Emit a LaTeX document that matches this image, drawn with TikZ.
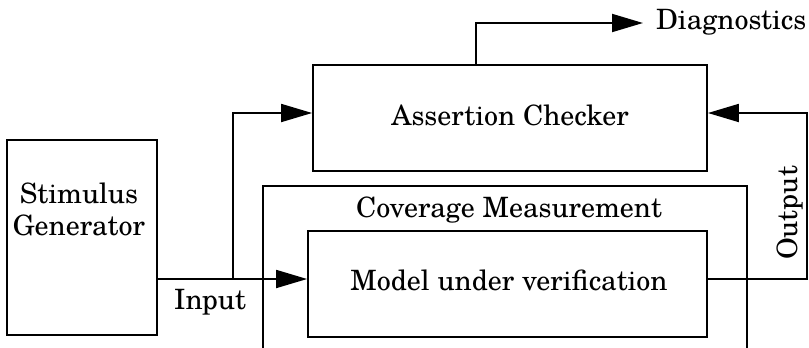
\documentclass[tikz,border=0pt]{standalone}
\usepackage{fontspec}
\setmainfont{TeX Gyre Schola}
\usetikzlibrary{arrows.meta,calc}

\tikzset{
  block/.style={draw, line width=1.8pt, inner sep=0pt},
  lbl/.style={inner sep=0pt, font=\fontsize{28}{32}\selectfont},
  flow/.style={line width=1.8pt, -{Triangle[length=31pt,width=18pt]}},
}

\begin{document}
\begin{tikzpicture}[x=1pt,y=-1pt]
  \useasboundingbox (0,0) rectangle (809,348);

  % blocks
  \node[block, minimum width=150pt, minimum height=195pt] (stim) at (82,237.5) {};
  \node[block, minimum width=394pt, minimum height=106pt] (checker) at (510,118) {};
  \node[block, minimum width=484pt, minimum height=174pt] (coverage) at (505,273) {};
  \node[block, fill=white, minimum width=399pt, minimum height=106pt] (model) at (507.5,284) {};

  % texts
  \node[lbl, align=center, anchor=base] (stimtext) at (79,235) {Stimulus\\Generator};
  \node[lbl, anchor=base] (checkertext) at (510,125) {Assertion Checker};
  \node[lbl, anchor=base] (covtext) at (509,217) {Coverage Measurement};
  \node[lbl, anchor=base] (modeltext) at (509,290) {Model under verification};
  \node[lbl, anchor=base] (intext) at (210,309) {Input};
  \node[lbl, anchor=base west] (diagtext) at (656,29) {Diagnostics};
  \node[lbl, anchor=base, rotate=90] (outtext) at (797,213) {Output};

  % helper points
  \coordinate (inY) at (0,279);
  \coordinate (aY) at (0,113);
  \coordinate (branch) at (233,279);
  \coordinate (diagX) at (476,0);
  \coordinate (diagEnd) at (643,23);
  \coordinate (outX) at (807,0);

  % connectors
  \draw[flow] (stim.east |- inY) -- (model.west |- inY);
  \draw[flow] (branch) |- (checker.west |- aY);
  \draw[flow] (checker.north -| diagX) |- (diagEnd);
  \draw[flow] (model.east |- inY) -| (outX |- aY) -- (checker.east |- aY);
\end{tikzpicture}
\end{document}
